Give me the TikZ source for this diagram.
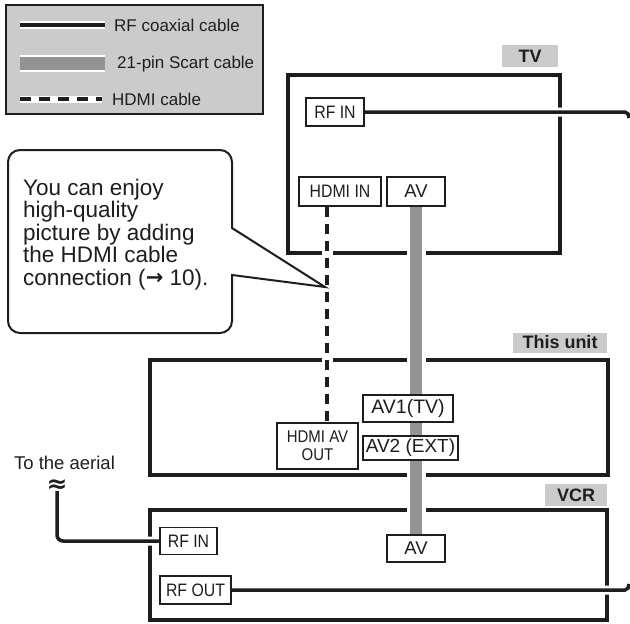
\documentclass[tikz,border=0pt]{standalone}
\usepackage{fontspec}
\setmainfont{Liberation Sans}
\newfontfamily\narrowfont[FakeStretch=0.88]{Liberation Sans}
\newfontfamily\symfont{DejaVu Sans}
\usetikzlibrary{calc}
\definecolor{lgray}{HTML}{CBCBCB}
\definecolor{scartgray}{HTML}{939393}
\definecolor{ink}{HTML}{1E1E1E}
\pgfdeclarelayer{frames}
\pgfdeclarelayer{cables}
\pgfsetlayers{frames,cables,main}
\begin{document}
\begin{tikzpicture}[x=1pt,y=-1pt,
  frame/.style={draw=ink, line width=4.5pt, inner sep=0pt},
  port/.style={draw=ink, line width=1.2pt, fill=white, inner sep=0pt, text=ink,
    font=\narrowfont\fontsize{18}{19}\selectfont},
  bigport/.style={port, font=\fontsize{19.5}{21}\selectfont},
  tag/.style={fill=lgray, inner sep=0pt, text=ink, font=\bfseries\fontsize{18}{20}\selectfont},
  legtext/.style={anchor=west, inner sep=0pt, text=ink, font=\fontsize{17}{19}\selectfont},
  rfhalo/.style={white, line width=9pt},
  rfline/.style={ink, line width=3.5pt},
  scarthalo/.style={white, line width=19pt},
  scartline/.style={scartgray, line width=12pt},
  hdmihalo/.style={white, line width=11pt},
  hdmiline/.style={ink, line width=4pt, dash pattern=on 10pt off 7pt}]
\begin{pgfonlayer}{frames}
\fill[white] (0,0) rectangle (630,624);
\end{pgfonlayer}
\useasboundingbox (0,0) rectangle (630,624);

% legend
\begin{pgfonlayer}{frames}
\node[draw=ink, line width=2pt, fill=lgray, minimum width=257pt, minimum height=109pt, inner sep=0pt] (legend) at (134.5,59.5) {};
\end{pgfonlayer}
\coordinate (l1a) at (20,25); \coordinate (l1b) at (105,25);
\coordinate (l2a) at (20,63.5); \coordinate (l2b) at (105,63.5);
\coordinate (l3a) at (20,99); \coordinate (l3b) at (102,99);
\begin{pgfonlayer}{cables}
\draw[white, line width=8pt] (l1a) -- (l1b); \draw[ink, line width=4pt] (l1a) -- (l1b);
\draw[white, line width=17pt] (l2a) -- (l2b); \draw[scartgray, line width=13pt] (l2a) -- (l2b);
\draw[white, line width=7pt] (l3a) -- (l3b); \draw[hdmiline, dash pattern=on 11pt off 8pt] (l3a) -- (l3b);
\end{pgfonlayer}
\node[legtext] (t1) at (114,25) {RF coaxial cable};
\node[legtext] (t2) at (117,64) {21-pin Scart cable};
\node[legtext] (t3) at (112,99) {HDMI cable};

% device frames and tags
\node[tag, minimum width=56pt, minimum height=22pt] (tvtag) at (530,56) {TV};
\node[tag, minimum width=94pt, minimum height=20pt] (unittag) at (560,342.5) {This unit};
\node[tag, minimum width=62pt, minimum height=22pt] (vcrtag) at (576,495) {VCR};
\begin{pgfonlayer}{frames}
\node[frame, minimum width=272pt, minimum height=178pt] (tv) at (424,164) {};
\node[frame, minimum width=458pt, minimum height=115pt] (unit) at (379,417.5) {};
\node[frame, minimum width=457pt, minimum height=110pt] (vcr) at (378.5,565) {};
\end{pgfonlayer}

% ports
\node[port, minimum width=58pt, minimum height=28pt] (tvrf) at (335,112) {RF IN};
\node[port, minimum width=82pt, minimum height=29pt] (hdmiin) at (340,191.5) {HDMI IN};
\node[port, minimum width=58pt, minimum height=29pt, font=\fontsize{18.5}{20}\selectfont] (tvav) at (416,191.5) {AV};
\node[bigport, minimum width=90pt, minimum height=27pt] (av1) at (408,408.5) {AV1(TV)};
\node[port, minimum width=81pt, minimum height=46pt, align=center,
  font=\narrowfont\fontsize{17}{18}\selectfont] (hdmiout) at (317.5,446) {HDMI AV\\OUT};
\node[bigport, minimum width=95pt, minimum height=24pt, font=\fontsize{19}{21}\selectfont] (av2) at (410.5,448) {AV2 (EXT)};
\node[port, minimum width=57pt, minimum height=27pt] (vcrrfin) at (188.5,541) {RF IN};
\node[port, minimum width=58pt, minimum height=27pt, font=\fontsize{18.5}{20}\selectfont] (vcrav) at (416,548.5) {AV};
\node[port, minimum width=71pt, minimum height=28pt] (vcrrfout) at (195.5,590) {RF OUT};

% free cable ends
\coordinate (tvend) at (629,118);
\coordinate (vcrend) at (629,584);
\coordinate (aer) at (57,491);

\begin{pgfonlayer}{cables}
% halos
\draw[scarthalo] (tvav.south) -- (vcrav.north);
\draw[hdmihalo] ($(hdmiin.south)+(-13,0)$) -- ($(hdmiout.north)+(9.5,0)$);
\draw[rfhalo] (tvrf.east) -- (625,112) to[out=0,in=90] (tvend);
\draw[rfhalo] (vcrrfout.east) -- (625,590) to[out=0,in=-90] (vcrend);
\draw[rfhalo, rounded corners=6pt] (aer) |- (vcrrfin.west);
% cables
\draw[scartline] (tvav.south) -- (vcrav.north);
\draw[hdmiline] ($(hdmiin.south)+(-13,0)$) -- ($(hdmiout.north)+(9.5,0)$);
\draw[rfline] (tvrf.east) -- (625,112) to[out=0,in=90] (tvend);
\draw[rfline] (vcrrfout.east) -- (625,590) to[out=0,in=-90] (vcrend);
\draw[rfline, rounded corners=6pt] (aer) |- (vcrrfin.west);
\end{pgfonlayer}

% aerial
\node[anchor=base, inner sep=0pt, text=ink, font=\fontsize{18.5}{20}\selectfont] (aerial) at (64.5,469) {To the aerial};
\node[inner sep=0pt, text=ink, font=\symfont\bfseries\fontsize{25}{25}\selectfont] (tilde) at (57,486) {≈};

% callout
\draw[ink, line width=2pt, fill=white]
  (120,150) [rounded corners=12pt] -- (232,150) -- (232,200) [sharp corners] -- (232,228)
  -- (325,287) -- (232,275) -- (232,300) [rounded corners=12pt] -- (232,333)
  -- (8,333) -- (8,150) -- cycle;
\node[anchor=north west, inner sep=0pt, align=left, text=ink,
  font=\fontsize{22.5}{22.6}\selectfont] (note) at (23,178.5)
  {You can enjoy\\high-quality\\picture by adding\\the HDMI cable\\connection (\raisebox{0.5pt}{\symfont\bfseries\fontsize{21}{22}\selectfont →} 10).};
\end{tikzpicture}
\end{document}
